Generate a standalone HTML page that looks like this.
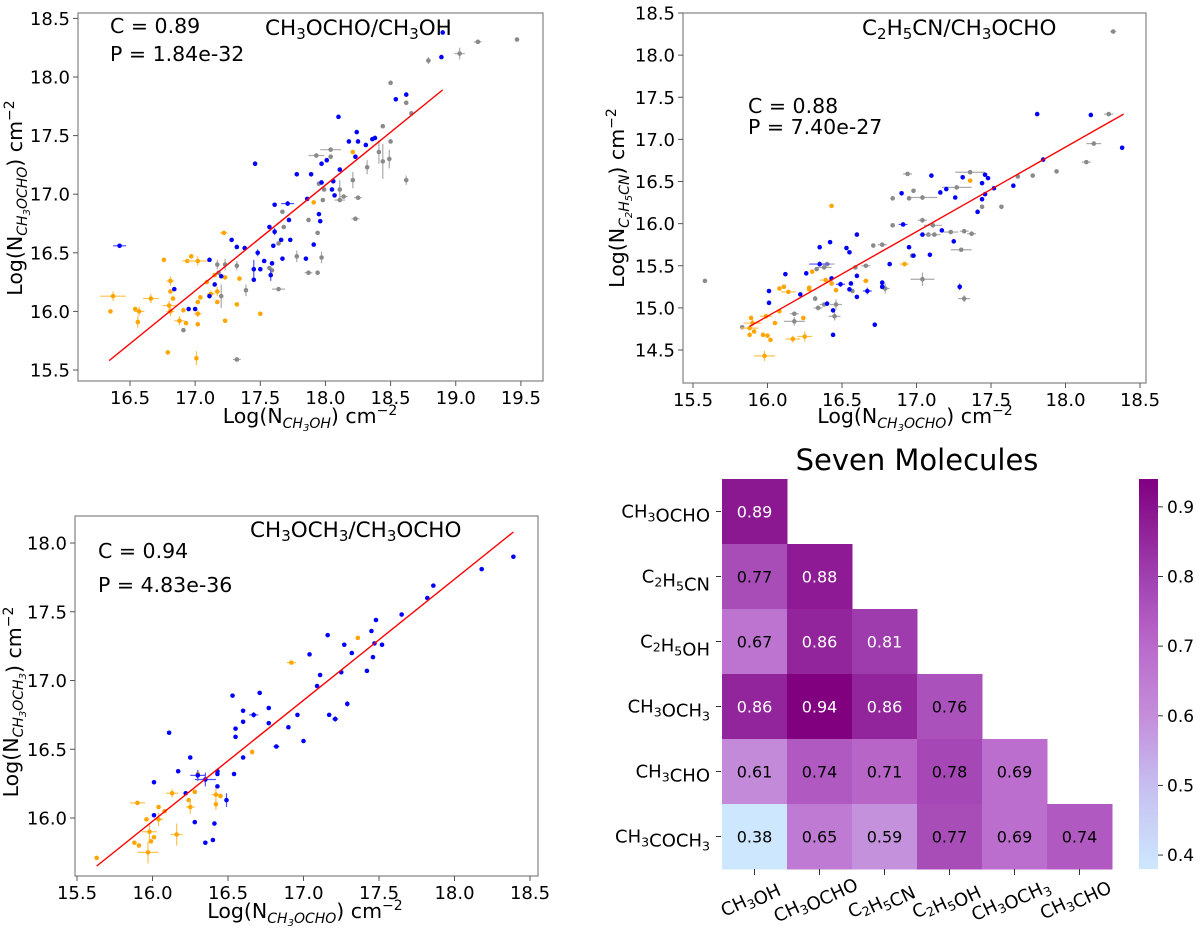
<!DOCTYPE html>
<html><head><meta charset="utf-8"><style>
html,body{margin:0;padding:0;background:#fff;}
svg{display:block;font-family:"DejaVu Sans","Liberation Sans",sans-serif;}
</style></head><body>
<svg id="fig" width="1200" height="936" viewBox="0 0 1200 936" xmlns="http://www.w3.org/2000/svg">
<g id="p1"></g>
<g id="p2"></g>
<g id="p3"></g>
<g id="p4"></g>

<!-- panel 1 text -->
<text x="110" y="33" font-size="20.5">C = 0.89</text>
<text x="110" y="61" font-size="20.5">P = 1.84e-32</text>
<text x="265" y="35" font-size="21.5">CH<tspan font-size="15" dy="4">3</tspan><tspan dy="-4">OCHO/CH</tspan><tspan font-size="15" dy="4">3</tspan><tspan dy="-4">OH</tspan></text>
<text x="310" y="423" font-size="20.5" text-anchor="middle">Log(N<tspan font-size="14" font-style="italic" dy="5">CH<tspan font-size="10" dy="3">3</tspan><tspan dy="-3">OH</tspan></tspan><tspan dy="-5">) cm</tspan><tspan font-size="14" dy="-8">−2</tspan></text>
<text transform="translate(22,198) rotate(-90)" font-size="20.5" text-anchor="middle">Log(N<tspan font-size="14" font-style="italic" dy="5">CH<tspan font-size="10" dy="3">3</tspan><tspan dy="-3">OCHO</tspan></tspan><tspan dy="-5">) cm</tspan><tspan font-size="14" dy="-8">−2</tspan></text>

<!-- panel 2 text -->
<text x="748" y="113" font-size="20.5">C = 0.88</text>
<text x="748" y="134" font-size="20.5">P = 7.40e-27</text>
<text x="862" y="35" font-size="21.5">C<tspan font-size="15" dy="4">2</tspan><tspan dy="-4">H</tspan><tspan font-size="15" dy="4">5</tspan><tspan dy="-4">CN/CH</tspan><tspan font-size="15" dy="4">3</tspan><tspan dy="-4">OCHO</tspan></text>
<text x="915" y="423" font-size="20.5" text-anchor="middle">Log(N<tspan font-size="14" font-style="italic" dy="5">CH<tspan font-size="10" dy="3">3</tspan><tspan dy="-3">OCHO</tspan></tspan><tspan dy="-5">) cm</tspan><tspan font-size="14" dy="-8">−2</tspan></text>
<text transform="translate(624,198) rotate(-90)" font-size="20.5" text-anchor="middle">Log(N<tspan font-size="14" font-style="italic" dy="5">C<tspan font-size="10" dy="3">2</tspan><tspan dy="-3">H</tspan><tspan font-size="10" dy="3">5</tspan><tspan dy="-3">CN</tspan></tspan><tspan dy="-5">) cm</tspan><tspan font-size="14" dy="-8">−2</tspan></text>

<!-- panel 3 text -->
<text x="98" y="558" font-size="20.5">C = 0.94</text>
<text x="98" y="592" font-size="20.5">P = 4.83e-36</text>
<text x="250" y="537" font-size="21.5">CH<tspan font-size="15" dy="4">3</tspan><tspan dy="-4">OCH</tspan><tspan font-size="15" dy="4">3</tspan><tspan dy="-4">/CH</tspan><tspan font-size="15" dy="4">3</tspan><tspan dy="-4">OCHO</tspan></text>
<text x="305" y="918" font-size="20.5" text-anchor="middle">Log(N<tspan font-size="14" font-style="italic" dy="5">CH<tspan font-size="10" dy="3">3</tspan><tspan dy="-3">OCHO</tspan></tspan><tspan dy="-5">) cm</tspan><tspan font-size="14" dy="-8">−2</tspan></text>
<text transform="translate(18,702) rotate(-90)" font-size="20.5" text-anchor="middle">Log(N<tspan font-size="14" font-style="italic" dy="5">CH<tspan font-size="10" dy="3">3</tspan><tspan dy="-3">OCH</tspan><tspan font-size="10" dy="3">3</tspan><tspan dy="-3"></tspan></tspan><tspan dy="-5">) cm</tspan><tspan font-size="14" dy="-8">−2</tspan></text>

<text x="917" y="470" font-size="29" text-anchor="middle">Seven Molecules</text>
</svg>
<script>
// ---------- Panel 1 data ----------
const p1XTicks=[16.5,17.0,17.5,18.0,18.5,19.0,19.5];
const p1YTicks=[15.5,16.0,16.5,17.0,17.5,18.0,18.5];
const p1FitX=[16.34,18.9];
const p1FitY=[15.58,17.89];
const p1Blue=[[18.90,18.38],[18.89,18.17],[18.54,17.81],[18.62,17.85],[18.10,17.66],[18.24,17.53],[18.18,17.45],[18.25,17.45],[18.31,17.42],[18.36,17.47],[18.38,17.48],[18.23,17.32],[17.46,17.26],[18.01,17.29],[17.97,17.26],[18.11,17.21],[17.78,17.17],[17.89,17.17],[17.97,17.10],[18.06,17.11],[18.05,17.04],[18.07,16.99],[17.86,16.96],[17.61,16.91],[17.71,16.92,0.05,0.02],[17.95,16.83],[17.96,16.77],[17.72,16.78],[17.57,16.72],[17.61,16.68,0,0.03],[17.28,16.61],[17.32,16.55],[17.38,16.54],[17.60,16.56],[17.66,16.61],[17.73,16.61],[17.91,16.57],[17.85,16.45],[17.67,16.45],[17.53,16.43],[17.48,16.50,0,0.03],[17.59,16.41],[17.45,16.36,0,0.08],[17.50,16.36],[17.45,16.27],[17.58,16.31,0,0.05],[17.11,16.44],[17.15,16.23],[17.20,16.30],[17.11,16.13],[16.84,16.19],[16.95,16.02],[17.00,16.02],[16.42,16.56,0.05,0]];
const p1Grey=[[18.79,18.14,0,0.03],[19.03,18.20,0.04,0.05],[19.17,18.30,0.03,0],[19.47,18.32],[18.50,17.95],[18.62,17.78],[18.66,17.69],[18.44,17.58],[18.50,17.45],[18.41,17.36,0,0.1],[18.44,17.28,0,0.15],[18.49,17.30,0,0.08],[18.32,17.23,0,0.06],[18.62,17.12,0,0.04],[17.93,17.33,0.06,0],[18.04,17.38,0.08,0],[18.04,17.32],[18.21,17.12,0,0.07],[18.11,17.04,0,0.08],[18.11,16.95,0.04,0],[18.14,16.98,0.03,0],[18.25,16.97,0.03,0],[17.98,16.95],[17.99,17.04],[17.95,17.09],[18.23,16.79,0.03,0],[17.87,16.78],[17.94,16.67],[17.97,16.46,0,0.05],[17.78,16.47,0,0.05],[17.87,16.33,0.03,0],[17.94,16.33],[17.67,16.85],[17.68,16.72],[17.64,16.58],[17.57,16.37],[17.59,16.35],[17.64,16.19,0.05,0],[17.39,16.18,0,0.05],[17.32,16.39,0,0.04],[17.23,16.40,0,0.05],[17.17,16.40,0,0.04],[17.18,16.33],[17.20,16.13,0,0.1],[16.91,15.84],[17.32,15.59,0.03,0]];
const p1Orange=[[17.22,16.67,0.03,0],[16.76,16.44],[16.97,16.47],[16.94,16.43,0.04,0],[17.02,16.43,0.08,0.04],[16.81,16.26,0.03,0.04],[16.81,16.17],[16.83,16.11],[16.80,16.05,0.05,0.04],[16.81,16.00,0.03,0.04],[16.37,16.13,0.1,0.04],[16.66,16.11,0.06,0.04],[16.35,16.00],[16.54,16.02],[16.57,16.00,0.04,0.04],[16.56,15.91,0,0.05],[16.88,15.92,0.04,0.04],[16.93,15.90],[16.91,16.01],[16.79,15.65],[17.01,15.60,0,0.06],[17.02,15.98,0.03,0.03],[17.02,15.89],[17.02,16.08],[17.04,16.12],[17.09,16.25],[17.15,16.31],[17.17,16.17,0.02,0.04],[17.12,16.15,0.03,0],[17.17,16.08],[17.23,16.29],[17.23,15.92],[17.34,16.28],[17.32,16.06],[17.50,15.98],[17.91,16.93],[18.21,17.36]];

// ---------- Panel 2 data ----------
const p2XTicks=[15.5,16.0,16.5,17.0,17.5,18.0,18.5];
const p2YTicks=[14.5,15.0,15.5,16.0,16.5,17.0,17.5,18.0,18.5];
const p2FitX=[15.88,18.39];
const p2FitY=[14.78,17.30];
const p2Blue=[[17.81,17.30],[18.17,17.29],[18.38,16.90],[17.85,16.76],[17.65,16.45],[17.52,16.42],[17.46,16.58],[17.48,16.54],[17.44,16.48],[17.31,16.55],[17.44,16.29],[17.46,16.35],[17.41,16.14],[17.10,16.57],[17.16,16.37],[17.20,16.41],[17.26,16.31],[16.90,16.36],[16.91,15.99,0.03,0],[17.04,15.87],[17.17,15.92],[17.25,15.79],[17.09,15.63],[16.95,15.72],[16.98,15.62],[16.82,15.52],[17.29,15.25,0,0.04],[16.72,14.80],[16.60,15.87],[16.53,15.71],[16.55,15.66],[16.42,15.78],[16.35,15.72],[16.35,15.52,0.07,0.03],[16.26,15.41],[16.12,15.40],[16.01,15.20],[16.01,15.06],[16.22,15.16],[16.43,15.35],[16.49,15.28,0.03,0.03],[16.56,15.29],[16.60,15.38],[16.55,15.22],[16.60,15.13],[16.67,15.20,0.03,0.04],[16.77,15.30],[16.77,15.25],[16.40,15.05],[16.44,14.97],[16.44,14.68]];
const p2Grey=[[18.32,18.28,0.02,0],[18.29,17.30,0.03,0],[18.19,16.95,0.05,0],[18.14,16.73,0.03,0],[17.94,16.62],[17.78,16.57],[17.68,16.56],[17.57,16.20],[17.44,16.20],[17.36,16.61,0.1,0],[17.27,16.43,0.1,0],[17.32,15.91,0.03,0],[17.37,15.88,0.03,0],[17.23,15.90,0.05,0],[17.30,15.69,0.07,0],[17.32,15.11,0.04,0.04],[17.04,15.34,0.08,0.08],[17.04,16.04,0.03,0.03],[17.11,15.98,0.06,0],[17.08,15.87,0.06,0],[17.12,15.87,0.04,0],[17.04,16.31,0.1,0.03],[16.98,16.39],[16.95,16.30],[16.94,16.59,0.03,0],[16.84,16.30],[16.84,15.98],[16.77,15.75,0.03,0],[16.71,15.74],[16.97,15.62],[16.79,15.23,0.03,0.06],[16.66,15.50,0.03,0],[16.59,15.48],[16.57,15.20],[16.40,15.52,0.05,0],[16.38,15.48,0.05,0],[16.33,15.46],[16.32,15.11,0,0.03],[16.34,15.00,0.03,0.03],[16.38,15.04,0.03,0],[16.46,15.04,0.04,0.06],[16.45,14.90,0.04,0.05],[16.18,14.84,0.07,0.05],[16.18,14.93,0.03,0],[15.83,14.77],[15.58,15.32]];
const p2Orange=[[16.43,16.21],[17.36,16.51],[16.92,15.52,0.03,0],[16.66,15.32,0.02,0],[16.30,15.43],[16.39,15.33,0.04,0.03],[16.43,15.29],[16.46,15.21],[16.28,15.22],[16.28,15.24],[16.11,15.25],[16.08,15.23],[16.14,15.19,0.05,0],[16.08,14.96],[15.99,14.90,0.04,0.03],[16.05,14.82],[16.24,14.88],[15.89,14.88],[15.90,14.82,0.06,0.04],[15.88,14.76,0.06,0],[15.91,14.72],[15.88,14.68],[15.97,14.68],[16.00,14.67],[16.02,14.62],[16.17,14.63,0.05,0.04],[16.25,14.66,0.05,0.06],[15.98,14.43,0.07,0.06]];

// ---------- Panel 3 data ----------
const p3XTicks=[15.5,16.0,16.5,17.0,17.5,18.0,18.5];
const p3YTicks=[16.0,16.5,17.0,17.5,18.0];
const p3FitX=[15.63,18.39];
const p3FitY=[15.65,18.08];
const p3Blue=[[18.39,17.90],[18.18,17.81],[17.86,17.69],[17.82,17.60],[17.65,17.48],[17.48,17.44],[17.45,17.36],[17.47,17.27],[17.52,17.26],[17.46,17.17],[17.42,17.07],[17.27,17.26],[17.32,17.20],[17.25,17.06],[17.16,17.33],[17.04,17.19],[17.11,17.04],[17.09,16.96],[17.29,16.83,0,0.02],[17.21,16.72,0.02,0.02],[17.17,16.75],[17.00,16.56],[16.96,16.75],[16.90,16.66],[16.82,16.52,0.02,0],[16.77,16.80],[16.77,16.69],[16.71,16.91],[16.67,16.75,0.03,0.02],[16.60,16.78],[16.60,16.70],[16.55,16.65],[16.55,16.59],[16.53,16.89],[16.60,16.44],[16.54,16.32],[16.43,16.34],[16.43,16.32],[16.43,16.23],[16.49,16.13,0,0.05],[16.41,15.96],[16.40,15.84],[16.35,15.82],[16.35,16.28,0.07,0.05],[16.30,16.31,0.05,0.04],[16.28,15.97],[16.22,16.18],[16.25,16.44],[16.17,16.34],[16.11,16.62],[16.01,16.26],[16.01,16.02]];
const p3Orange=[[17.36,17.31],[16.92,17.13,0.03,0],[16.66,16.48,0,0.02],[16.30,16.32],[16.28,16.19],[16.13,16.18,0.04,0.03],[15.90,16.11,0.05,0],[16.24,16.13],[16.25,16.08,0.03,0.05],[16.42,16.17,0.03,0.05],[16.45,16.16],[16.42,16.10,0,0.04],[16.04,16.08],[16.08,16.05],[16.04,15.99,0.03,0.05],[15.96,15.99],[15.98,15.90,0.05,0.06],[15.99,15.83],[16.01,15.86],[15.88,15.82],[15.91,15.80],[16.16,15.88,0.04,0.08],[15.97,15.75,0.07,0.08],[15.63,15.71]];

// ---------- Heatmap data ----------
const hmRows=["CH3OCHO","C2H5CN","C2H5OH","CH3OCH3","CH3CHO","CH3COCH3"];
const hmCols=["CH3OH","CH3OCHO","C2H5CN","C2H5OH","CH3OCH3","CH3CHO"];
const hmValues=[[0.89],[0.77,0.88],[0.67,0.86,0.81],[0.86,0.94,0.86,0.76],[0.61,0.74,0.71,0.78,0.69],[0.38,0.65,0.59,0.77,0.69,0.74]];
const cbTicks=[0.4,0.5,0.6,0.7,0.8,0.9];
const cbMin=0.38, cbMax=0.94;

const NS="http://www.w3.org/2000/svg";
function mk(parent,tag,attrs){const e=document.createElementNS(NS,tag);for(const k in attrs)e.setAttribute(k,attrs[k]);parent.appendChild(e);return e;}

function scatterPanel(g,cfg,series,fitX,fitY,xt,yt,prefix){
  const sx=v=>cfg.x0+(v-cfg.xv0)*cfg.kx, sy=v=>cfg.y0-(v-cfg.yv0)*cfg.ky;
  const fr=mk(g,'rect',{x:cfg.l,y:cfg.t,width:cfg.r-cfg.l,height:cfg.b-cfg.t,fill:'none',stroke:'#8c8c8c','stroke-width':1.3});
  
  
  xt.forEach(v=>{const x=sx(v);
    const t=mk(g,'line',{x1:x,x2:x,y1:cfg.b,y2:cfg.b+5,stroke:'#555','stroke-width':1});
    
    
    const l=mk(g,'text',{x:x,y:cfg.b+23,'font-size':18,'text-anchor':'middle'});l.textContent=v.toFixed(1);
    
    });
  yt.forEach(v=>{const y=sy(v);
    const t=mk(g,'line',{x1:cfg.l-5,x2:cfg.l,y1:y,y2:y,stroke:'#555','stroke-width':1});
    
    
    const l=mk(g,'text',{x:cfg.l-8,y:y+6.5,'font-size':18,'text-anchor':'end'});l.textContent=v.toFixed(1);
    
    });
  series.forEach(s=>{s.pts.forEach(p=>{
    const x=sx(p[0]),y=sy(p[1]);const xe=p[2]||0,ye=p[3]||0;
    if(xe){const e=mk(g,'line',{x1:sx(p[0]-xe),x2:sx(p[0]+xe),y1:y,y2:y,stroke:s.ec,'stroke-width':1.2});
      
      }
    if(ye){const e=mk(g,'line',{x1:x,x2:x,y1:sy(p[1]-ye),y2:sy(p[1]+ye),stroke:s.ec,'stroke-width':1.2});
      
      }
    const c=mk(g,'circle',{cx:x,cy:y,r:2.3,fill:s.c});
    
    
  });});
  const ln=mk(g,'line',{x1:sx(fitX[0]),y1:sy(fitY[0]),x2:sx(fitX[1]),y2:sy(fitY[1]),stroke:'#ff0000','stroke-width':1.4});
  
  
}
const B={c:'#0000ff',ec:'#5050ff'},G={c:'#8a8a8a',ec:'#aaaaaa'},O={c:'#ffa500',ec:'#ffc050'};
scatterPanel(document.getElementById('p1'),{l:78,t:13,r:543,b:381,x0:130,xv0:16.5,kx:130.3,y0:370,yv0:15.5,ky:117.2},
 [{...G,n:'grey',pts:p1Grey},{...O,n:'orange',pts:p1Orange},{...B,n:'blue',pts:p1Blue}],p1FitX,p1FitY,p1XTicks,p1YTicks,'p1');
scatterPanel(document.getElementById('p2'),{l:683,t:13,r:1146,b:383,x0:693,xv0:15.5,kx:149,y0:350,yv0:14.5,ky:84.25},
 [{...G,n:'grey',pts:p2Grey},{...O,n:'orange',pts:p2Orange},{...B,n:'blue',pts:p2Blue}],p2FitX,p2FitY,p2XTicks,p2YTicks,'p2');
scatterPanel(document.getElementById('p3'),{l:75,t:516,r:538,b:876,x0:77,xv0:15.5,kx:151,y0:818,yv0:16,ky:137.5},
 [{...O,n:'orange',pts:p3Orange},{...B,n:'blue',pts:p3Blue}],p3FitX,p3FitY,p3XTicks,p3YTicks,'p3');

// heatmap
const stops=[[0.38,[205,232,254]],[0.5,[198,190,240]],[0.6,[196,141,219]],[0.7,[186,106,203]],[0.8,[160,64,176]],[0.94,[128,0,128]]];
function cmap(v){for(let i=0;i<stops.length-1;i++){const a=stops[i],b=stops[i+1];if(v<=b[0]||i==stops.length-2){const t=Math.max(0,Math.min(1,(v-a[0])/(b[0]-a[0])));
  return 'rgb('+a[1].map((c,j)=>Math.round(c+(b[1][j]-c)*t)).join(',')+')';}}}
function chemText(parent,str,attrs,size){const t=mk(parent,'text',attrs);
  str.split(/(\d)/).forEach(part=>{if(!part)return;const ts=mk(t,'tspan',{});
    if(/\d/.test(part)){ts.setAttribute('font-size',size*0.7);ts.setAttribute('dy',4);ts.textContent=part;
      const back=mk(t,'tspan',{dy:-4});back.textContent='';}else ts.textContent=part;});
  return t;}
const hg=document.getElementById('p4');
const HL=722,HT=479,CW=65,CH=65;
hmValues.forEach((row,i)=>row.forEach((v,j)=>{
  const r=mk(hg,'rect',{x:HL+j*CW,y:HT+i*CH,width:CW+0.5,height:CH+0.5,fill:cmap(v)});
  
  
  const t=mk(hg,'text',{x:HL+j*CW+CW/2,y:HT+i*CH+CH/2+6,'font-size':16,'text-anchor':'middle',fill:v>=0.8?'#fff':'#000'});
  t.textContent=v.toFixed(2);
  
  
}));
hmRows.forEach((n,i)=>{const y=HT+i*CH+CH/2;
  mk(hg,'line',{x1:HL-6,x2:HL-1,y1:y,y2:y,stroke:'#333'});
  const t=chemText(hg,n,{x:HL-12,y:y+6,'font-size':18,'text-anchor':'end'},18);
  
  });
hmCols.forEach((n,j)=>{const x=HL+j*CW+CW/2;
  mk(hg,'line',{x1:x,x2:x,y1:HT+6*CH,y2:HT+6*CH+6,stroke:'#333'});
  const t=chemText(hg,n,{x:0,y:0,'font-size':18,'text-anchor':'middle',transform:'translate('+(x-2)+',904) rotate(-25)'},18);
  
  });
// colorbar
const defs=mk(hg,'defs',{});const lg=mk(defs,'linearGradient',{id:'cbg',x1:0,y1:1,x2:0,y2:0});
for(let k=0;k<=20;k++){const v=cbMin+(cbMax-cbMin)*k/20;mk(lg,'stop',{offset:(k/20),'stop-color':cmap(v)});}
const CBT=479,CBB=869,CBL=1139,CBR=1158;
const cb=mk(hg,'rect',{x:CBL,y:CBT,width:CBR-CBL,height:CBB-CBT,fill:'url(#cbg)'});


cbTicks.forEach(v=>{const y=CBB-(v-cbMin)/(cbMax-cbMin)*(CBB-CBT);
  mk(hg,'line',{x1:CBR,x2:CBR+5,y1:y,y2:y,stroke:'#333'});
  const t=mk(hg,'text',{x:CBR+9,y:y+6,'font-size':17});t.textContent=v.toFixed(1);
  
  });
</script>
</body></html>
